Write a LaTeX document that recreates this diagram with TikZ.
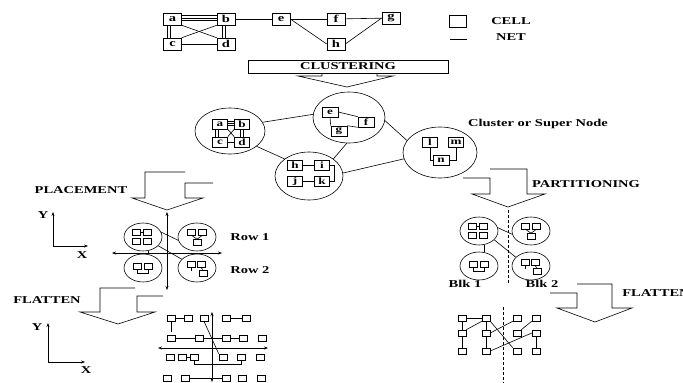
\documentclass[tikz,border=0pt]{standalone}
\usepackage{fontspec}
\setmainfont{Liberation Serif}[FakeStretch=1.38]
\usetikzlibrary{shapes.geometric, arrows.meta}

\tikzset{
	cellbox/.style={draw, minimum width=18pt, minimum height=12pt},
	subcell/.style={draw, minimum width=15pt, minimum height=10pt, font=\bfseries\fontsize{9.5}{11}\selectfont},
	tinycell/.style={draw, minimum width=8pt, minimum height=6pt},
	supernode/.style={draw, ellipse},
	minisuper/.style={draw, ellipse, minimum width=38pt, minimum height=28pt},
	partline/.style={dashed, dash pattern=on 3pt off 2pt},
	% 四种小簇
	pics/quadgrp/.style={code={
		\node[minisuper] (-o) at (0,0) {};
		\node[tinycell] (-p) at (-6.5,-4.5) {};
		\node[tinycell] (-q) at (4.5,-4.5) {};
		\node[tinycell] (-r) at (-6.5,4.5) {};
		\node[tinycell] (-s) at (4.5,4.5) {};
		\draw (-p) -- (-q);
	}},
	pics/veegrp/.style={code={
		\node[minisuper] (-o) at (0,0) {};
		\node[tinycell] (-p) at (-5.5,-5) {};
		\node[tinycell] (-q) at (5.5,-5) {};
		\node[tinycell] (-r) at (0,5.5) {};
		\draw (-p.south) -- (-r.north);
		\draw (-q.south) -- (-r.north);
	}},
	pics/pairgrp/.style={code={
		\node[minisuper] (-o) at (0,0) {};
		\node[tinycell] (-p) at (-5.5,-1.5) {};
		\node[tinycell] (-q) at (5.5,-1.5) {};
		\draw (-p.south) -- ++(0,3.5) -| (-q.south);
	}},
	pics/dropgrp/.style={code={
		\node[minisuper] (-o) at (0,0) {};
		\node[tinycell] (-p) at (-6,-3.5) {};
		\node[tinycell] (-q) at (4,-3.5) {};
		\node[tinycell] (-r) at (6,5) {};
		\draw (-p.south) -- ++(0,3);
		\draw (-q.south) -- (-r.north);
	}},
}

\begin{document}
\begin{tikzpicture}[x=1pt, y=-1pt, >={Stealth[length=4pt, width=3pt]}, line width=0.6pt,
	every node/.style={font=\bfseries\fontsize{10.5}{12}\selectfont, inner sep=0pt}]
	\useasboundingbox (0,0) rectangle (683,383);
	\clip (0,0) rectangle (683,383);
	
	% 1. 原始网表 (单元与连线)
	\node[cellbox] (a) at (172.5,19) {a};
	\node[cellbox] (b) at (226,19) {b};
	\node[cellbox] (c) at (172.5,44) {c};
	\node[cellbox] (d) at (226,44) {d};
	\node[cellbox] (e) at (281,19) {e};
	\node[cellbox] (f) at (336,19) {f};
	\node[cellbox] (g) at (391,18) {g};
	\node[cellbox] (h) at (336,44) {h};
	\foreach \s in {3.5,1,-1.5} \draw ([yshift=\s pt]a.east) -- ([yshift=\s pt]b.west);
	\foreach \s in {-5.5,-2.5} \draw ([xshift=\s pt]a.south) -- ([xshift=\s pt]c.north);
	\foreach \s in {-3.5,-0.5} \draw ([xshift=\s pt]b.south) -- ([xshift=\s pt]d.north);
	\draw (a.south east) -- (d.north west);
	\draw (b.south west) -- (c.north east);
	\draw (c) -- (d);
	\draw (b) -- (e);
	\draw (e) -- (f);
	\draw (f) -- (g);
	\draw (e.east) -- (h.west);
	\draw (h.east) -- (g.west);
	
	% 图例
	\node[cellbox, minimum width=17pt] (cellkey) at (458,21) {};
	\node (celltxt) at (511,21) {CELL};
	\coordinate (netl) at (450,39);
	\coordinate (netr) at (467,39);
	\draw (netl) -- (netr);
	\node (nettxt) at (511,37) {NET};
	
	% 2. 聚类框与箭头
	\node[draw, minimum width=200pt, minimum height=13pt] (clus) at (348,66.5) {CLUSTERING};
	\draw (322,73) -- (322,76) -- (298,76) -- (347,87) -- (393,76) -- (377,76) -- (377,73);
	
	% 3. 超级节点
	\node[supernode, minimum width=70pt, minimum height=46pt] (sa) at (230,131) {};
	\node[subcell] (a2) at (220,124) {a};
	\node[subcell] (b2) at (242,124) {b};
	\node[subcell] (c2) at (220,142) {c};
	\node[subcell] (d2) at (242,142) {d};
	\foreach \s in {2.5,0.5,-1.5} \draw ([yshift=\s pt]a2.east) -- ([yshift=\s pt]b2.west);
	\foreach \s in {-5,-2} \draw ([xshift=\s pt]a2.south) -- ([xshift=\s pt]c2.north);
	\foreach \s in {-1.5,1.5} \draw ([xshift=\s pt]b2.south) -- ([xshift=\s pt]d2.north);
	\draw (a2.south east) -- (d2.north west);
	\draw (b2.south west) -- (c2.north east);
	\draw (c2) -- (d2);
	
	\node[supernode, minimum width=72pt, minimum height=51pt] (sb) at (349,117.5) {};
	\node[subcell, minimum width=16pt] (e2) at (330,112) {e};
	\node[subcell, minimum width=16pt] (f2) at (366,122) {f};
	\node[subcell, minimum width=16pt] (g2) at (339,131) {g};
	\draw (e2.east) -- (f2.north west);
	\draw (e2.south) -- (g2.north west);
	\draw (g2.north east) -- (f2.south west);
	
	\node[supernode, minimum width=68pt, minimum height=48pt] (sc) at (309,176) {};
	\node[subcell] (h2) at (295,165) {h};
	\node[subcell] (i2) at (322,165) {i};
	\node[subcell] (j2) at (295,181) {j};
	\node[subcell] (k2) at (322,181) {k};
	\draw (h2) -- (i2);
	\draw (j2) -- (k2);
	\draw (i2.east) -- ++(4,0) |- (k2.east);
	
	\node[supernode, minimum width=74pt, minimum height=51pt] (sd) at (440,152.5) {};
	\node[subcell] (l2) at (430,142) {l};
	\node[subcell] (m2) at (456,142) {m};
	\node[subcell, minimum width=16pt] (n2) at (441,160) {n};
	\draw (l2.south) |- (n2.west);
	\draw (m2.south) |- (n2.east);
	
	% 簇间连线
	\draw (sa.15) -- (sb.175);
	\draw (sa.-30) -- (sc.145);
	\draw (sb.-95) -- (sc.35);
	\draw (sb.-5) -- (sd.160);
	\draw (sc.5) -- (sd.190);
	\node (supertxt) at (538,124) {Cluster or Super Node};
	
	% 4. 布局箭头与划分箭头
	\draw (213,183) -- (185,183) -- (185,198) -- (203,198) -- (167,210) -- (132,198) -- (145,198) -- (145,172) -- (185,172);
	\node (placetxt) at (81,190) {PLACEMENT};
	\draw (463,178) -- (490,178) -- (490,194) -- (472,194) -- (508,207) -- (545,194) -- (527,194) -- (527,169) -- (490,169);
	\node (parttxt) at (586,184) {PARTITIONING};
	
	% 5. 布局结果 (行)
	\coordinate (yo1) at (53,246);
	\draw[->] (yo1) -- ++(0,-34);
	\draw[->] (yo1) -- ++(35,0);
	\node (ylab1) at (43,215) {Y};
	\node (xlab1) at (82,255) {X};
	\draw[<->] (167,212) -- (167,290);
	\draw[<->] (112,253) -- (222,253);
	\pic (pa) at (143,237) {quadgrp};
	\pic (pb) at (197,237) {veegrp};
	\pic (pc) at (143,268) {pairgrp};
	\pic (pd) at (197,268) {dropgrp};
	\draw (pa-o.15) -- (pb-o.190);
	\draw (pa-o.-70) -- (pc-o.70);
	\draw (pa-o.-30) -- (pd-o.150);
	\node[anchor=west] (row1) at (230,237) {Row 1};
	\node[anchor=west] (row2) at (230,270) {Row 2};
	
	% 6. 划分结果 (块)
	\draw[partline] (508,210) -- (508,284);
	\pic (ka) at (479,231) {quadgrp};
	\pic (kb) at (531,231) {veegrp};
	\pic (kc) at (479,266) {pairgrp};
	\pic (kd) at (531,266) {dropgrp};
	\draw (ka-o.10) -- (kb-o.190);
	\draw (ka-o.-70) -- (kc-o.70);
	\draw (ka-o.-30) -- (kd-o.150);
	\node (blk1) at (465,284) {Blk 1};
	\node (blk2) at (542,284) {Blk 2};
	
	% 7. 展平箭头
	\draw (135,288) -- (100,288) -- (100,312) -- (80,312) -- (118,324) -- (155,312) -- (137,312) -- (137,296) -- (163,296);
	\node (flattxt1) at (47,300) {FLATTEN};
	\draw (550,293) -- (577,293) -- (577,308) -- (557,308) -- (595,322) -- (632,308) -- (612,308) -- (612,284) -- (577,284);
	\node[anchor=west] (flattxt2) at (622,293) {FLATTEN};
	
	% 8. 展平后的布局
	\coordinate (yo2) at (48,362);
	\draw[->] (yo2) -- ++(0,-39);
	\draw[->] (yo2) -- ++(37,0);
	\node (ylab2) at (37,327) {Y};
	\node (xlab2) at (86,370) {X};
	\draw[<->] (212,312) -- (212,382);
	\draw[<->] (158,348) -- (268,348);
	\foreach \n/\x in {11/171, 12/188, 13/204, 14/226, 15/246}
		\node[tinycell] (q\n) at (\x,318) {};
	\foreach \n/\x in {21/171, 22/199, 23/226, 24/243, 25/262}
		\node[tinycell] (q\n) at (\x,338) {};
	\foreach \n/\x in {31/170, 32/182, 33/194, 34/223, 35/241, 36/260}
		\node[tinycell] (q\n) at (\x,357) {};
	\foreach \n/\x in {41/167, 42/185, 43/226, 44/242, 45/261}
		\node[tinycell] (q\n) at (\x,378) {};
	\draw (q11) -- (q12);
	\draw (q14) -- (q15);
	\draw (q11.south) -- ([yshift=3pt]q21.north);
	\draw (q13.south) -- (q34.north west);
	\draw (q21) -- (q22);
	\draw (q22) -- (q23);
	\draw (q23) -- (q24);
	\draw (q32) -- (q33);
	\draw (q33.south) -- ++(0,4) -| (q35.south);
	\draw (q42) -- (q43);
	
	% 9. 展平后的划分
	\draw[partline] (503,307) -- (503,383);
	\foreach \r/\y in {1/318, 2/333, 3/351}
		\foreach \c/\x in {1/462, 2/486, 3/517, 4/536}
			\node[tinycell] (t\r\c) at (\x,\y) {};
	\draw (t11) -- (t12);
	\draw (t11) -- (t21);
	\draw (t21) -- (t31);
	\draw (t21.north east) -- (t12.south west);
	\draw (t12) -- (t22);
	\draw (t22) -- (t32);
	\draw (t12.south east) -- (t33.north west);
	\draw (t22.east) -- (t13.south west);
	\draw (t23.north east) -- (t14.south west);
	\draw (t32.east) -- (t24.west);
	\draw (t24) -- (t34);
\end{tikzpicture}
\end{document}
